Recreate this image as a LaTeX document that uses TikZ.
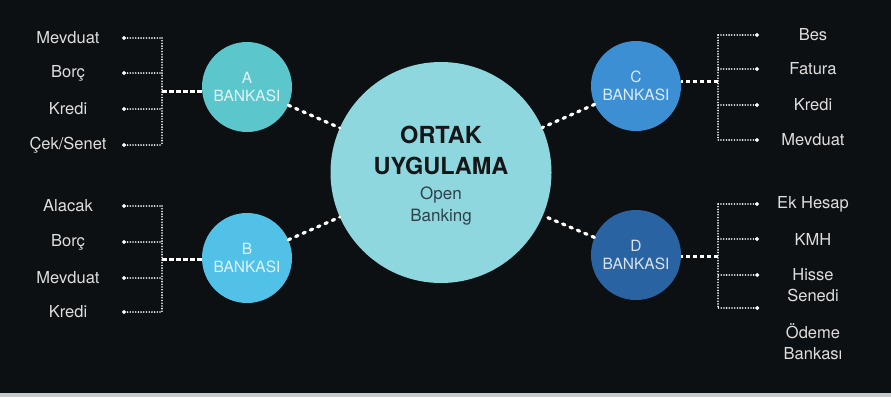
\documentclass[tikz,border=0pt]{standalone}
\usepackage{fontspec}
\setmainfont{TeX Gyre Heros}
\usepackage{xcolor}
\usepackage{tikz}
\usetikzlibrary{arrows.meta}

\definecolor{bgdark}{HTML}{0D1013}
\definecolor{stripgray}{HTML}{C9C9C9}
\definecolor{maincyan}{HTML}{8FD7DE}
\definecolor{bankA}{HTML}{5BC6CB}
\definecolor{bankB}{HTML}{52C1E7}
\definecolor{bankC}{HTML}{3D8FD3}
\definecolor{bankD}{HTML}{2A63A1}
\definecolor{itemgray}{HTML}{DEDEDE}
\definecolor{titleblack}{HTML}{141618}
\definecolor{subtitle}{HTML}{2E4249}

\begin{document}
\begin{tikzpicture}[x=1pt, y=-1pt,
  hub/.style={circle, fill=maincyan, minimum size=221pt, inner sep=0pt},
  bank/.style={circle, minimum size=90pt, inner sep=0pt, align=center,
               font=\fontsize{15.5}{18}\selectfont, text=white, text opacity=0.82},
  item/.style={minimum width=108pt, inner sep=0pt, align=center,
               font=\fontsize{16.5}{21}\selectfont, text=itemgray},
  twig/.style={{Circle[length=3.6pt]}-, white, line width=1.8pt,
               line cap=round, dash pattern=on 0pt off 2.7pt},
  bus/.style={white, line width=1.8pt, line cap=round,
              dash pattern=on 0pt off 2.7pt},
  stem/.style={white, line width=3pt, dash pattern=on 4.5pt off 2.5pt},
  link/.style={white, line width=3.2pt, line cap=round,
               dash pattern=on 2.5pt off 5.5pt},
]
\useasboundingbox (0,0) rectangle (891,397);

% --- Background ---
\fill[bgdark]    (0,0)   rectangle (891,393);
\fill[stripgray] (0,393) rectangle (891,397);

% --- Centre and banks ---
\node[hub] (main) at (441,172.5) {};
\node[font=\fontsize{23.5}{31}\selectfont\bfseries, text=titleblack, align=center]
  (title) at (441,150.5) {ORTAK\\UYGULAMA};
\node[font=\fontsize{17}{22}\selectfont, text=subtitle, align=center]
  (sub) at (441,206) {Open\\Banking};

\node[bank, fill=bankA] (A) at (247, 87) {A\\BANKASI};
\node[bank, fill=bankB] (B) at (247,258) {B\\BANKASI};
\node[bank, fill=bankC] (C) at (636, 86) {C\\BANKASI};
\node[bank, fill=bankD] (D) at (636,255) {D\\BANKASI};

% --- Links to the centre ---
\draw[link] (A) -- (main);
\draw[link] (B) -- (main);
\draw[link] (C) -- (main);
\draw[link] (D) -- (main);

% --- A Bankasi items ---
\node[item] (a1) at (68, 38) {Mevduat};
\node[item] (a2) at (68, 73) {Borç};
\node[item] (a3) at (68,109) {Kredi};
\node[item] (a4) at (68,145) {Çek/Senet};
\coordinate (atop) at (162, 38);
\coordinate (abot) at (162,145);
\coordinate (ajoin) at (162, 91);

% --- B Bankasi items ---
\node[item] (b1) at (68,206) {Alacak};
\node[item] (b2) at (68,242) {Borç};
\node[item] (b3) at (68,278) {Mevduat};
\node[item] (b4) at (68,312) {Kredi};
\coordinate (btop) at (162,206);
\coordinate (bbot) at (162,312);
\coordinate (bjoin) at (162,259);

% --- C Bankasi items ---
\node[item] (c1) at (813, 35) {Bes};
\node[item] (c2) at (813, 69) {Fatura};
\node[item] (c3) at (813,105) {Kredi};
\node[item] (c4) at (813,140) {Mevduat};
\coordinate (ctop) at (718, 35);
\coordinate (cbot) at (718,140);
\coordinate (cjoin) at (718, 81);

% --- D Bankasi items ---
\node[item] (d1) at (813,204) {Ek Hesap};
\node[item] (d2) at (813,239) {KMH};
\node[item] (d3) at (813,285) {Hisse\\Senedi};
\node[item] (d4) at (813,342) {Ödeme\\Bankası};
\coordinate (dtop) at (718,204);
\coordinate (dbot) at (718,308);
\coordinate (djoin) at (718,256);
\coordinate (d3dot) at (759,275);
\coordinate (d4dot) at (759,308);

% --- Dotted trees ---
\draw[bus] (atop) -- (abot);
\draw[twig] (a1.east) -- (a1.east -| atop);
\draw[twig] (a2.east) -- (a2.east -| atop);
\draw[twig] (a3.east) -- (a3.east -| atop);
\draw[twig] (a4.east) -- (a4.east -| atop);
\draw[stem] (ajoin) -- (ajoin -| A.west);

\draw[bus] (btop) -- (bbot);
\draw[twig] (b1.east) -- (b1.east -| btop);
\draw[twig] (b2.east) -- (b2.east -| btop);
\draw[twig] (b3.east) -- (b3.east -| btop);
\draw[twig] (b4.east) -- (b4.east -| btop);
\draw[stem] (bjoin) -- (bjoin -| B.west);

\draw[bus] (ctop) -- (cbot);
\draw[twig] (c1.west) -- (c1.west -| ctop);
\draw[twig] (c2.west) -- (c2.west -| ctop);
\draw[twig] (c3.west) -- (c3.west -| ctop);
\draw[twig] (c4.west) -- (c4.west -| ctop);
\draw[stem] (cjoin) -- (cjoin -| C.east);

\draw[bus] (dtop) -- (dbot);
\draw[twig] (d1.west) -- (d1.west -| dtop);
\draw[twig] (d2.west) -- (d2.west -| dtop);
\draw[twig] (d3dot) -- (d3dot -| dtop);
\draw[twig] (d4dot) -- (d4dot -| dtop);
\draw[stem] (djoin) -- (djoin -| D.east);
\end{tikzpicture}
\end{document}
